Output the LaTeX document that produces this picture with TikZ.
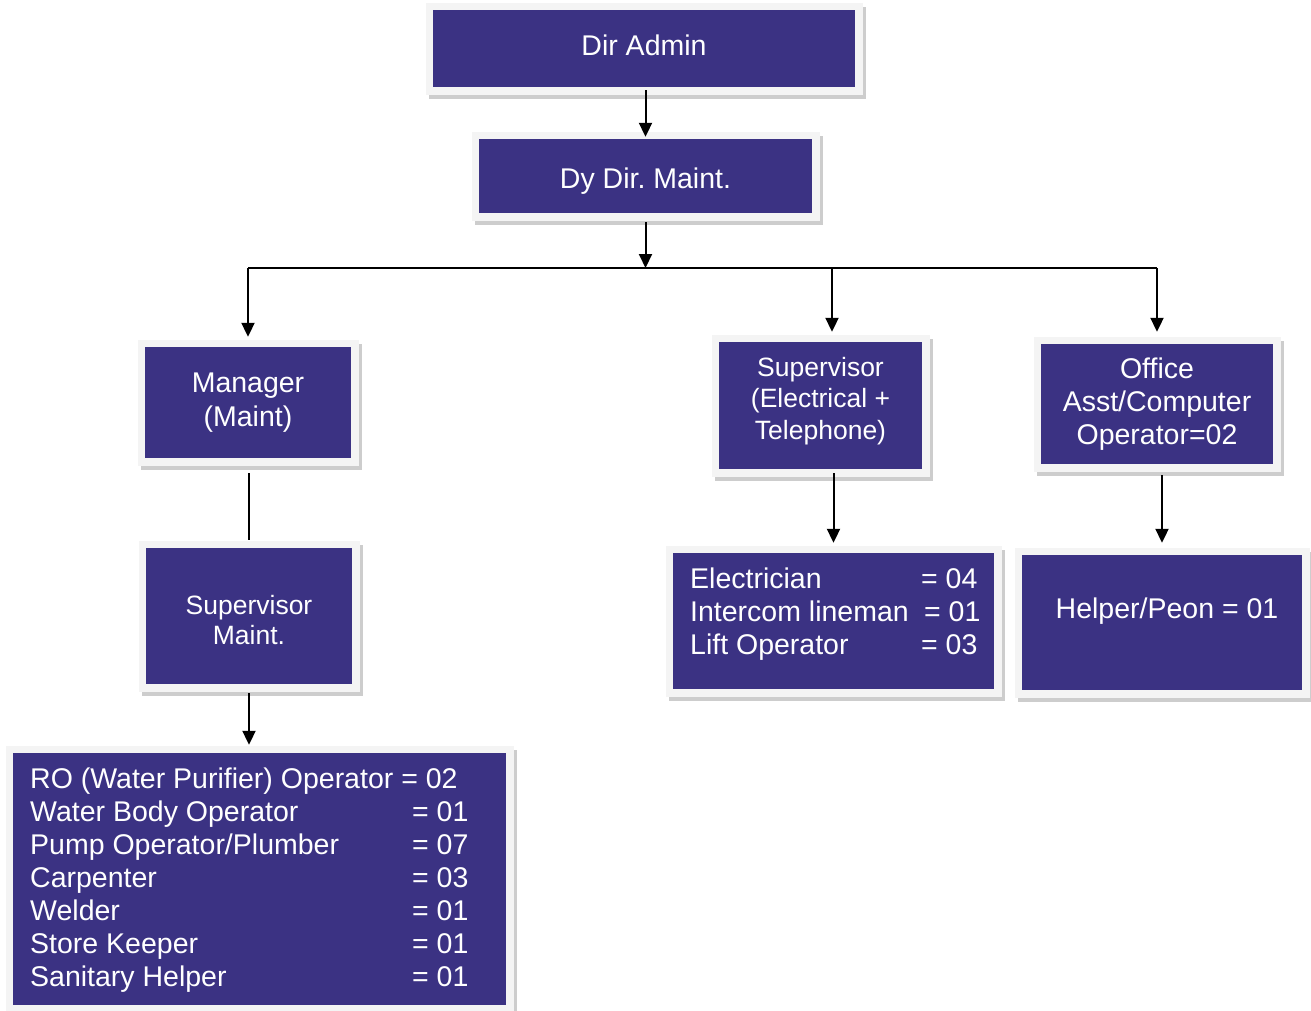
\documentclass[tikz,border=0pt]{standalone}
\usepackage{fontspec}
\setmainfont{Liberation Sans}
\usetikzlibrary{arrows.meta}
\definecolor{boxblue}{RGB}{59,50,131}
\definecolor{framegrey}{RGB}{244,244,244}
\definecolor{shadowgrey}{RGB}{205,205,205}

\begin{document}
\begin{tikzpicture}[x=1pt,y=-1pt,
    orgbox/.style={rectangle, fill=boxblue, text=white, inner sep=0pt, align=center,
        preaction={fill=shadowgrey, draw=shadowgrey, line width=15pt,
            transform canvas={shift={(3pt,-4pt)}}},
        preaction={fill=framegrey, draw=framegrey, line width=15pt}},
    bigtext/.style={font=\fontsize{28.5}{33}\selectfont},
    smalltext/.style={font=\fontsize{26.5}{30}\selectfont},
    stafflist/.style={text=white, inner sep=0pt, anchor=base west,
        font=\fontsize{28.5}{33}\selectfont},
    link/.style={line width=2pt},
    arr/.style={link, -{Triangle[width=13pt,length=14pt]}}]

    \useasboundingbox (0,0) rectangle (1311,1010);

    \node[orgbox, bigtext, minimum width=422pt, minimum height=77pt, text depth=6pt] (dirAdmin) at (644,48.5) {Dir Admin};
    \node[orgbox, bigtext, minimum width=333pt, minimum height=74pt, text height=31pt] (dyDir) at (645.5,176) {Dy Dir.\ Maint.};

    \node[orgbox, font=\fontsize{28.5}{34}\selectfont, minimum width=206pt, minimum height=111pt] (manager) at (248,402.5) {Manager\\(Maint)};
    \node[orgbox, smalltext, minimum width=206pt, minimum height=136pt, text height=57pt] (supMaint) at (249,616) {Supervisor\\Maint.};
    \node[orgbox, minimum width=493pt, minimum height=252pt] (staffMaint) at (259.5,879) {};

    \node[orgbox, font=\fontsize{26.5}{31.5}\selectfont, minimum width=203pt, minimum height=127pt, text depth=15pt] (supElec) at (820.5,405.5) {Supervisor\\(Electrical +\\Telephone)};
    \node[orgbox, bigtext, minimum width=232pt, minimum height=120pt] (office) at (1157,404) {Office\\Asst/Computer\\Operator=02};

    \node[orgbox, minimum width=321pt, minimum height=136pt] (staffElec) at (833.5,621) {};
    \node[orgbox, bigtext, minimum width=280pt, minimum height=135pt, text depth=28pt] (helper) at (1162,622.5) {\hspace*{10pt}Helper/Peon = 01};

    \node[stafflist] (elecList) at (690,588) {\begin{tabular}[t]{@{}l@{}}
        \makebox[231pt][l]{Electrician}= 04\\
        \makebox[234pt][l]{Intercom lineman}= 01\\
        \makebox[231pt][l]{Lift Operator}= 03
    \end{tabular}};
    \node[stafflist] (maintList) at (30,788) {\begin{tabular}[t]{@{}l@{}}
        RO (Water Purifier) Operator = 02\\
        \makebox[382pt][l]{Water Body Operator}= 01\\
        \makebox[382pt][l]{Pump Operator/Plumber}= 07\\
        \makebox[382pt][l]{Carpenter}= 03\\
        \makebox[382pt][l]{Welder}= 01\\
        \makebox[382pt][l]{Store Keeper}= 01\\
        \makebox[382pt][l]{Sanitary Helper}= 01
    \end{tabular}};

    \coordinate (bus) at (645.5,268);

    \draw[arr, shorten <=3pt, shorten >=2pt] (dirAdmin.south -| dyDir.north) -- (dyDir.north);
    \draw[arr, shorten <=9pt] (dyDir.south) -- (bus);
    \draw[link] (manager.north |- bus) -- (office.north |- bus);
    \draw[arr, shorten >=10pt] (manager.north |- bus) -- (manager.north);
    \draw[arr, shorten >=10pt] ([xshift=11.5pt]supElec.north |- bus) -- ([xshift=11.5pt]supElec.north);
    \draw[arr, shorten >=12pt] (office.north |- bus) -- (office.north);

    \draw[link, shorten <=15pt, shorten >=8pt] (manager.south -| supMaint.north) -- (supMaint.north);
    \draw[arr, shorten <=9pt, shorten >=8pt] (supMaint.south) -- (supMaint.south |- staffMaint.north);
    \draw[arr, shorten <=4pt, shorten >=10pt] (supElec.south -| staffElec.north) -- (staffElec.north);
    \draw[arr, shorten <=11pt, shorten >=12pt] (office.south -| helper.north) -- (helper.north);
\end{tikzpicture}
\end{document}
